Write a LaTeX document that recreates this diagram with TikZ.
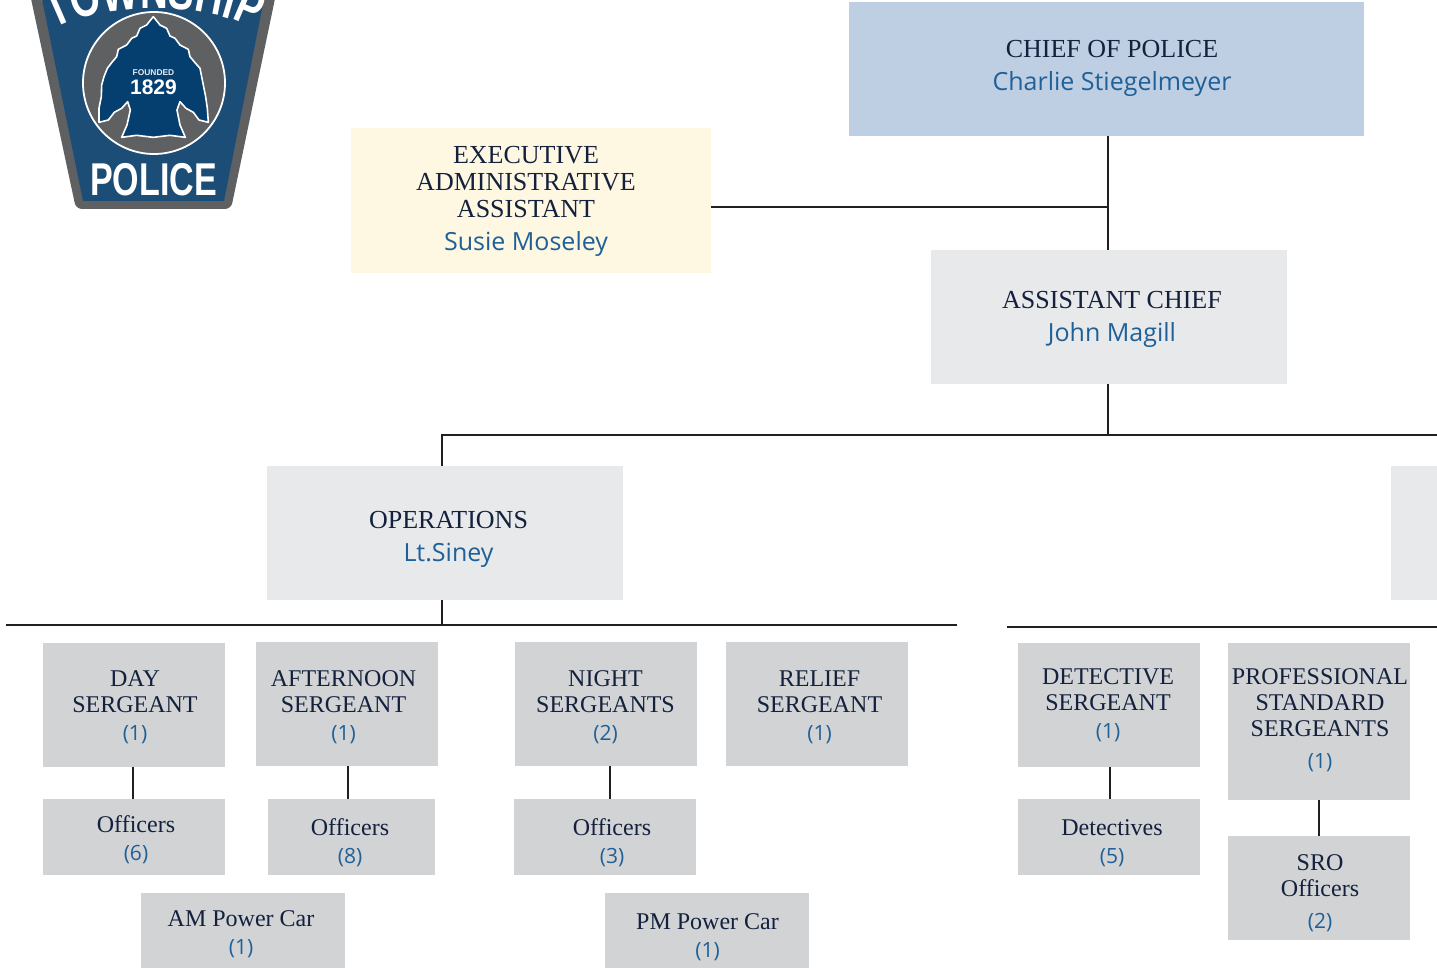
\documentclass[tikz,border=0pt]{standalone}
\usepackage{fontspec}
\usetikzlibrary{decorations.text}
\setmainfont{Liberation Serif}
\newfontfamily\namefont{Open Sans}[Scale=1]
\newfontfamily\badgefont{Liberation Sans}[FakeStretch=0.74]
\newfontfamily\arrowfont{Liberation Sans}
\definecolor{ink}{HTML}{14213D}
\definecolor{wire}{HTML}{231F20}
\definecolor{nameblue}{HTML}{1F6098}
\definecolor{chiefbg}{HTML}{BFCFE3}
\definecolor{execbg}{HTML}{FEF7E1}
\definecolor{lightbg}{HTML}{E8E9EB}
\definecolor{unitbg}{HTML}{D1D3D5}
\definecolor{badgegrey}{HTML}{5E6062}
\definecolor{badgeblue}{HTML}{1B4D76}
\definecolor{arrowblue}{HTML}{053F70}
\tikzset{
  x=1pt,y=-1pt,
  boxbase/.style={rectangle,inner sep=0pt,draw=none},
  link/.style={draw=wire,line width=2.4pt},
  bigtext/.style={align=center,inner sep=0pt,text=ink,font=\fontsize{26}{27}\selectfont},
  smalltext/.style={align=center,inner sep=0pt,text=ink,font=\fontsize{24}{26}\selectfont},
}
\newcommand{\orgbox}[6]{% name,x1,y1,x2,y2,color
  \node[boxbase,fill=#6,minimum width={#4-#2},minimum height={#5-#3}] (#1) at ({(#2+#4)/2},{(#3+#5)/2}) {};}
\newcommand{\bigname}[1]{{\namefont\fontsize{25}{26}\selectfont\color{nameblue}#1}}
\newcommand{\smallname}[1]{{\namefont\fontsize{21}{26}\selectfont\color{nameblue}#1}}
\begin{document}
\begin{tikzpicture}
\useasboundingbox (0,0) rectangle (1437,968);
% badge
\begin{scope}
\clip (0,0) rectangle (1437,968);
\path[fill=badgegrey,rounded corners=6pt] (30,-6) -- (76,209) -- (231,209) -- (276,-6) -- cycle;
\path[fill=badgeblue] (41,-6) -- (83,201) -- (224,201) -- (265,-6) -- cycle;
\path[fill=badgegrey,draw=white,line width=1.8pt] (154,83) circle[radius=71];
\begin{scope}[scale=0.3333333]
\path[fill=arrowblue,draw=white,line width=1.6pt,line join=round]
 (460,50) -- (440,75) -- (420,85) -- (410,108) -- (395,115) -- (380,135) -- (355,148) -- (350,170) -- (335,188) -- (322,205) -- (312,230) -- (305,255) -- (304,290) -- (297,325) -- (297,367) -- (325,360) -- (343,337) -- (365,325) -- (383,305) -- (391,330) -- (381,375) -- (365,412) -- (410,406) -- (460,412) -- (510,406) -- (556,412) -- (540,375) -- (531,330) -- (540,305) -- (558,325) -- (580,337) -- (597,360) -- (625,367) -- (622,325) -- (617,290) -- (610,255) -- (600,205) -- (585,188) -- (570,170) -- (565,148) -- (540,135) -- (525,115) -- (510,108) -- (500,85) -- (480,75) -- cycle;
\end{scope}
\node[inner sep=0pt,text=white!90!badgeblue,font=\arrowfont\bfseries\fontsize{8.4}{9}\selectfont] (founded) at (153.5,73) {FOUNDED};
\node[inner sep=0pt,text=white,font=\arrowfont\bfseries\fontsize{21}{22}\selectfont] (year) at (153.5,87.5) {1829};
\node[inner sep=0pt,text=white,font=\badgefont\bfseries\fontsize{46}{46}\selectfont] (police) at (153.5,179.5) {POLICE};
\path[decorate,decoration={text along path,text align=center,
  text={|\badgefont\bfseries\fontsize{52}{52}\selectfont\color{white}|TOWNSHIP}}]
  (62,25) .. controls (110,3) and (198,3) .. (246,25);
\end{scope}
% boxes
\orgbox{chief}{849}{2}{1364}{136}{chiefbg}
\orgbox{exec}{351}{128}{711}{273}{execbg}
\orgbox{asst}{931}{250}{1287}{384}{lightbg}
\orgbox{ops}{267}{466}{623}{600}{lightbg}
\orgbox{admin}{1391}{466}{1437}{600}{lightbg}
\orgbox{day}{43}{643}{225}{767}{unitbg}
\orgbox{aft}{256}{642}{438}{766}{unitbg}
\orgbox{night}{515}{642}{697}{766}{unitbg}
\orgbox{relief}{726}{642}{908}{766}{unitbg}
\orgbox{det}{1018}{643}{1200}{767}{unitbg}
\orgbox{prof}{1228}{643}{1410}{800}{unitbg}
\orgbox{offsix}{43}{799}{225}{875}{unitbg}
\orgbox{offeight}{268}{799}{435}{875}{unitbg}
\orgbox{offthree}{514}{799}{696}{875}{unitbg}
\orgbox{detfive}{1018}{799}{1200}{875}{unitbg}
\orgbox{sro}{1228}{836}{1410}{940}{unitbg}
\orgbox{am}{141}{893}{345}{968}{unitbg}
\orgbox{pm}{605}{893}{809}{968}{unitbg}
% texts
\node[bigtext] (chief-t) at (1112,68) {CHIEF OF POLICE\\[6pt]\bigname{Charlie Stiegelmeyer}};
\node[bigtext] (exec-t) at (526,201) {EXECUTIVE\\ADMINISTRATIVE\\ASSISTANT\\[6pt]\bigname{Susie Moseley}};
\node[bigtext] (asst-t) at (1112,319) {ASSISTANT CHIEF\\[6pt]\bigname{John Magill}};
\node[bigtext] (ops-t) at (448.5,539) {OPERATIONS\\[6pt]\bigname{Lt.Siney}};
\node[smalltext] (day-t) at (135,707) {DAY\\SERGEANT\\[2pt]\smallname{(1)}};
\node[smalltext] (aft-t) at (343.5,707) {AFTERNOON\\SERGEANT\\[2pt]\smallname{(1)}};
\node[smalltext] (night-t) at (605.5,707) {NIGHT\\SERGEANTS\\[2pt]\smallname{(2)}};
\node[smalltext] (relief-t) at (819.5,707) {RELIEF\\SERGEANT\\[2pt]\smallname{(1)}};
\node[smalltext] (det-t) at (1108,705) {DETECTIVE\\SERGEANT\\[2pt]\smallname{(1)}};
\node[smalltext] (prof-t) at (1320,720) {PROFESSIONAL\\STANDARD\\SERGEANTS\\[6pt]\smallname{(1)}};
\node[smalltext] (offsix-t) at (136,840) {Officers\\[2pt]\smallname{(6)}};
\node[smalltext] (offeight-t) at (350,843) {Officers\\[2pt]\smallname{(8)}};
\node[smalltext] (offthree-t) at (612,843) {Officers\\[2pt]\smallname{(3)}};
\node[smalltext] (detfive-t) at (1112,843) {Detectives\\[2pt]\smallname{(5)}};
\node[smalltext] (sro-t) at (1320,893) {SRO\\Officers\\[6pt]\smallname{(2)}};
\node[smalltext] (am-t) at (241,934) {AM Power Car\\[2pt]\smallname{(1)}};
\node[smalltext] (pm-t) at (707.5,937) {PM Power Car\\[2pt]\smallname{(1)}};
% junctions
\coordinate (jexec) at (1108,207);
\coordinate (jmain) at (1108,435);
\coordinate (jops) at (442,435);
\coordinate (jadmin) at (1437,435);
\coordinate (opsjoin) at (442,625);
\coordinate (opsleft) at (6,625);
\coordinate (opsright) at (957,625);
\coordinate (adminleft) at (1007,627);
\coordinate (adminright) at (1437,627);
% connectors
\draw[link] ([xshift=1.5pt]chief.south) -- ([xshift=-1pt]asst.north);
\draw[link] (exec.east |- jexec) -- (jexec);
\draw[link] ([xshift=-1pt]asst.south) -- (jmain);
\draw[link] (jadmin) -- (jops) -- (jops |- ops.north);
\draw[link] (jops |- ops.south) -- (opsjoin);
\draw[link] (opsleft) -- (opsright);
\draw[link] (adminleft) -- (adminright);
\draw[link] ([xshift=-1pt]day.south) -- ([xshift=-1pt]offsix.north);
\draw[link] ([xshift=1pt]aft.south) -- ([xshift=-3.5pt]offeight.north);
\draw[link] ([xshift=4pt]night.south) -- ([xshift=5pt]offthree.north);
\draw[link] ([xshift=1pt]det.south) -- ([xshift=1pt]detfive.north);
\draw[link] (prof.south) -- (sro.north);
\end{tikzpicture}
\end{document}
